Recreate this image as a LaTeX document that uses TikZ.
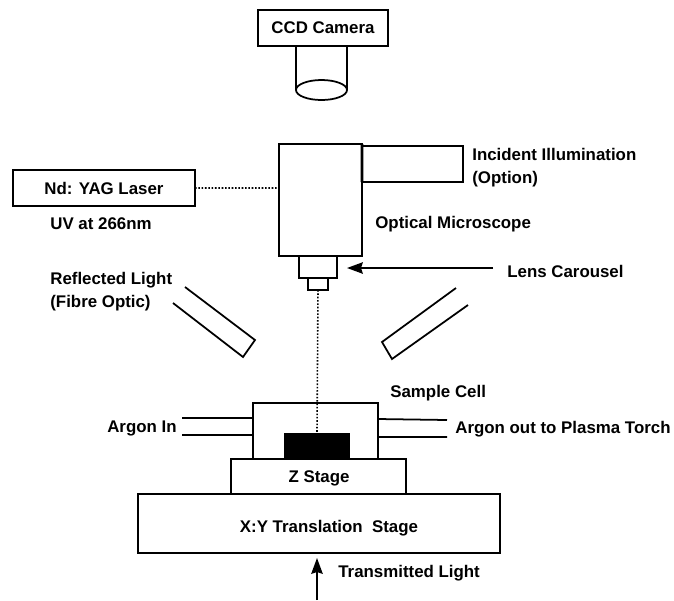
\documentclass[tikz,border=0pt]{standalone}
\usepackage{fontspec}
\setmainfont{Liberation Sans}
\usetikzlibrary{arrows.meta,positioning}
\tikzset{
  part/.style={draw,line width=1pt,inner sep=0pt,outer sep=0pt},
  lab/.style={font=\fontsize{9.6}{13}\selectfont\bfseries,inner sep=0pt,align=left},
  beam/.style={densely dotted,line width=0.9pt},
  pipe/.style={line width=1pt}
}
\begin{document}
\begin{tikzpicture}[>={Stealth[length=9pt,width=6.5pt,inset=1pt]},x=0.02cm,y=-0.02cm]
  \useasboundingbox (0,0) rectangle (674,600);
  % camera
  \node[part,lab,minimum width=2.6cm,minimum height=0.72cm,anchor=north west,align=center] (camera) at (258,10) {CCD Camera};
  \draw[pipe] (296,46) -- (296,90) (347,46) -- (347,90);
  \draw[pipe] (321.5,90) ellipse [x radius=25.5,y radius=10];
  % microscope
  \node[part,minimum width=1.66cm,minimum height=2.24cm,anchor=north west] (scope) at (279,144) {};
  \draw[pipe] (362,146) -- (463,146) -- (463,182) -- (362,182);
  \draw[line width=1.6pt] (scope.north east) -- (362,182);
  \node[part,minimum width=0.76cm,minimum height=0.44cm,anchor=north west] (lens) at (299,256) {};
  \node[part,minimum width=0.4cm,minimum height=0.24cm,anchor=north] (tip) at (lens.south) {};
  % laser
  \node[part,lab,minimum width=3.64cm,minimum height=0.72cm,anchor=north west,align=center] (laser) at (13,170) {Nd: YAG Laser};
  \coordinate (scopein) at (279,188);
  \draw[beam] (laser.east) -- (scopein);
  % fibre optics
  \draw[pipe] (185,287) -- (255,340) -- (243,357) -- (173,303);
  \draw[pipe] (456,288) -- (382,342) -- (392,359) -- (468,305);
  % sample cell
  \draw[pipe] (253,459) -- (253,403) -- (378,403) -- (378,459);
  \draw[pipe] (182,418) -- (253,418) (182,435) -- (253,435);
  \draw[pipe] (378,419) -- (447,420) (378,437) -- (447,437);
  \node[fill=black,minimum width=1.32cm,minimum height=0.52cm,inner sep=0pt,anchor=south] (sample) at (317,459) {};
  \draw[beam] (tip.south) -- (sample.north);
  % stages
  \node[part,minimum width=3.5cm,minimum height=0.7cm,anchor=north west] (zstage) at (231,459) {};
  \node[lab] (zlabel) at (319,478) {Z Stage};
  \node[part,minimum width=7.24cm,minimum height=1.18cm,anchor=north west] (xystage) at (138,494) {};
  \node[lab] (xylabel) at (329,528) {X:Y Translation\ \ Stage};
  % arrows
  \coordinate (lightin) at (317,600);
  \coordinate (lighttip) at (317,558);
  \draw[->,pipe] (lightin) -- (lighttip);
  \node[lab,anchor=west] (carousel) at (507,271) {Lens Carousel};
  \coordinate (lenspoint) at (347,268);
  \coordinate (carouselend) at (493,268);
  \draw[->,pipe] (carouselend) -- (lenspoint);
  % labels
  \node[lab,anchor=west] (illum) at (472,168) {Incident Illumination\\(Option)};
  \node[lab,anchor=west] (micro) at (375,224) {Optical Microscope};
  \node[lab,anchor=west] (uv) at (50,224) {UV at 266nm};
  \node[lab,anchor=west] (reflected) at (50,292) {Reflected Light\\(Fibre Optic)};
  \node[lab,anchor=west] (cell) at (390,393) {Sample Cell};
  \node[lab,anchor=east] (argonin) at (177,428) {Argon In};
  \node[lab,anchor=west] (argonout) at (455,429) {Argon out to Plasma Torch};
  \node[lab,anchor=west] (translight) at (338,573) {Transmitted Light};
\end{tikzpicture}
\end{document}
